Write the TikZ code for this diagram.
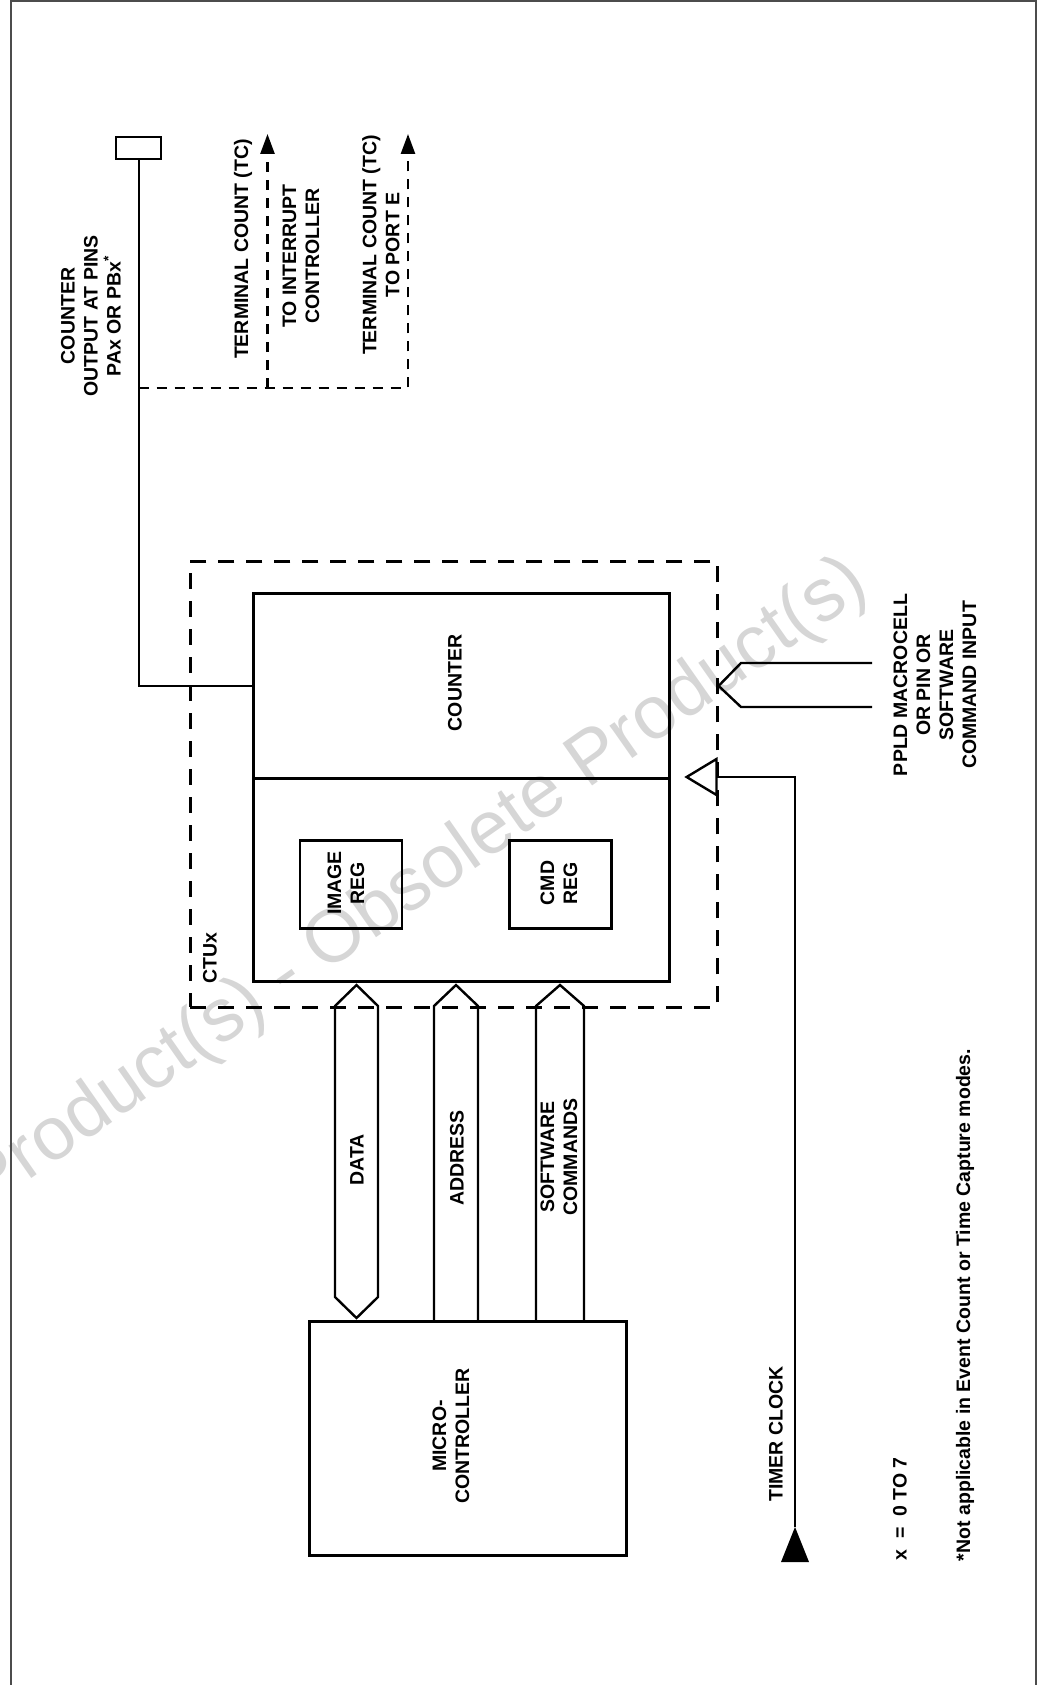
\documentclass[tikz,border=0pt]{standalone}
\usepackage{fontspec}
\setmainfont{Liberation Sans}
\usetikzlibrary{arrows.meta}
\begin{document}
\begin{tikzpicture}[x=1pt,y=-1pt,
  lbl/.style={font=\fontsize{19.5}{23}\selectfont\bfseries, align=center, rotate=90, inner sep=0pt},
  boxnode/.style={draw, line width=2.8pt, anchor=north west, inner sep=0pt},
  wire/.style={line width=2.4pt},
  dline/.style={line width=2.6pt, dash pattern=on 10pt off 8pt},
  dbox/.style={line width=2.6pt, dash pattern=on 16pt off 12pt},
  tip/.style={-{Triangle[length=20pt,width=14pt]}},
  wmark/.style={font=\fontsize{75}{78}\selectfont, text=black!16, rotate=35, inner sep=0pt}
]
\useasboundingbox (0,0) rectangle (1041,1685);
% watermark
\begin{scope}
\clip (0,0) rectangle (1041,1685);
\node[wmark] (wm) at (418,885) {Product(s) - Obsolete Product(s)};
\end{scope}
% frame
\coordinate (fbl) at (11,1685);
\coordinate (ftl) at (11,1);
\coordinate (ftr) at (1036,1);
\coordinate (fbr) at (1036,1685);
\draw[line width=2.4pt, black!70] (fbl) -- (ftl) -- (ftr) -- (fbr);

% pin box
\node[boxnode, line width=2.4pt, minimum width=45pt, minimum height=22pt] (pin) at (115,136) {};
% CTU dashed box
\node[draw, dbox, anchor=north west, inner sep=0pt, minimum width=527pt, minimum height=446pt] (ctu) at (189,560) {};
% inner boxes
\node[boxnode, minimum width=416pt, minimum height=185pt] (counter) at (252,592) {};
\node[boxnode, minimum width=416pt, minimum height=203pt] (regs) at (252,777) {};
\node[boxnode, line width=2.6pt, minimum width=102pt, minimum height=88pt] (imgreg) at (298.5,839) {};
\node[boxnode, line width=2.6pt, minimum width=102pt, minimum height=88pt] (cmdreg) at (508,839) {};
% microcontroller
\node[boxnode, minimum width=317pt, minimum height=234pt] (micro) at (308,1320) {};

% labels
\node[lbl] (lcounter) at (455,683) {COUNTER};
\node[lbl] (limg) at (346,883) {IMAGE\\REG};
\node[lbl] (lcmd) at (559,883) {CMD\\REG};
\node[lbl] (lctu) at (210,958) {CTUx};
\node[lbl] (lmicro) at (451,1436) {MICRO-\\CONTROLLER};
\node[lbl] (lout) at (91,316) {COUNTER\\OUTPUT AT PINS\\PAx OR PBx\textsuperscript{*}};
\node[lbl] (ltc1) at (243,249) {TERMINAL COUNT (TC)};
\node[lbl] (lint) at (301,256) {TO INTERRUPT\\CONTROLLER};
\node[lbl] (ltc2) at (381,245) {TERMINAL COUNT (TC)\\TO PORT E};
\node[lbl] (lppld) at (935,685) {PPLD MACROCELL\\OR PIN OR\\SOFTWARE\\COMMAND INPUT};
\node[lbl] (ltimer) at (776,1434) {TIMER CLOCK};
\node[lbl] (ldata) at (357,1160) {DATA};
\node[lbl] (laddr) at (457,1158) {ADDRESS};
\node[lbl] (lsw) at (559,1157) {SOFTWARE\\COMMANDS};
\node[lbl] (lx) at (900,1509) {x \ = \ 0 TO 7};
\node[lbl] (lnote) at (965,1305) {*Not applicable in Event Count or Time Capture modes.};

% counter output
\draw[wire] (pin.south) |- (counter.west);
\coordinate (tap) at (pin.south |- 0,388);
\coordinate (tc1) at (267.5,134);
\coordinate (tc2) at (408,134);
\coordinate (j1) at (tc1 |- tap);
\draw[dline, tip] (tap) -| (tc2);
\draw[dline, tip] (j1) -- (tc1);

% PPLD input
\coordinate (pin1) at (872,663);
\coordinate (pin2) at (872,707);
\coordinate (vapex) at (ctu.east |- counter.west);
\draw[wire] (pin1) -- (741,663) -- (vapex) -- (741,707) -- (pin2);

% clock input
\coordinate (clk) at (ctu.east |- regs.north);
\draw[wire] (clk) ++(-32,0) coordinate (clkapex) -- (716.5,759) -- (716.5,795) -- cycle;
\coordinate (tclk) at (795,1527);
\draw[wire] (clk) -| (tclk);
\fill (tclk) -- (809,1562) -- (781,1562) -- cycle;

% buses
\draw[wire, line join=miter] (335,1006) -- (356.5,985) -- (378,1006) -- (378,1297) -- (356.5,1318) -- (335,1297) -- cycle;
\draw[wire, line join=miter] (micro.north -| 434,0) -- (434,1006) -- (456,985) -- (478,1006) -- (micro.north -| 478,0);
\draw[wire, line join=miter] (micro.north -| 536,0) -- (536,1006) -- (560,985) -- (584,1006) -- (micro.north -| 584,0);
\end{tikzpicture}
\end{document}
